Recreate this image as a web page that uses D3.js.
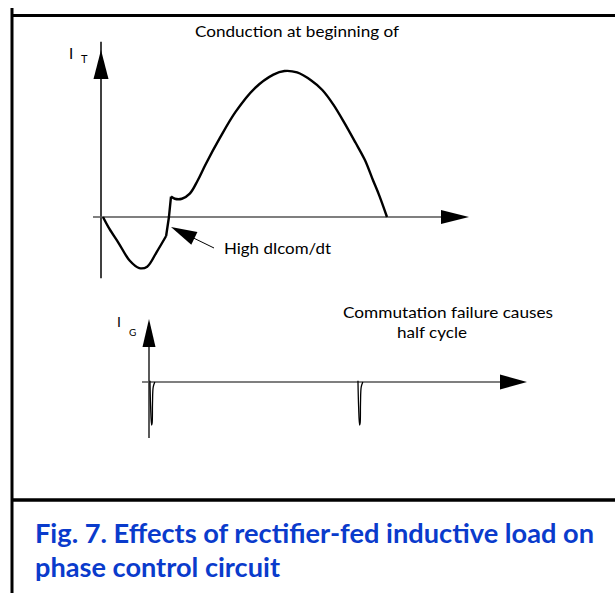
<!DOCTYPE html>
<html><head><meta charset="utf-8">
<script src="https://cdn.jsdelivr.net/npm/d3@7"></script>
<style>html,body{margin:0;padding:0;background:#fff;}svg{display:block;}</style>
</head><body>
<svg id="c" width="615" height="593"></svg>
<script>
// ---- data ----
// Thyristor current I_T : [phase angle (deg), normalised current]
const itNegLobe = [[0,0],[4,-0.08],[10,-0.18],[17,-0.30],[23,-0.35],[28,-0.34],[34,-0.24],[40,-0.13]];
const itJump    = [[40,-0.13],[41.8,0],[43.1,0.14]];
const itPosLobe = [[43.1,0.14],[45.5,0.125],[50,0.125],[55,0.16],[60,0.25],[65,0.36],[74,0.54],[84,0.72],[96,0.88],[108,0.975],[115,1.0],[123,0.99],[132,0.935],[139,0.87],[146,0.77],[153,0.645],[160,0.51],[166,0.39],[171,0.255],[175,0.15],[180,0]];
// Gate current I_G pulses : firing angles (deg)
const gatePulses = [0, 180];
// pulse shape : [offset (deg), normalised gate current]
const pulseShape = [[-0.9,0.03],[-0.3,-0.6],[0.5,-1],[1.0,-0.95],[1.3,-0.5],[1.9,-0.12],[3.3,0]];
const labels = {
  title: "Conduction at beginning of",
  arrowNote: "High dIcom/dt",
  note1: "Commutation failure causes",
  note2: "half cycle",
  caption1: "Fig. 7. Effects of rectifier-fed inductive load on",
  caption2: "phase control circuit"
};

const svg = d3.select("#c");

// frame
svg.append("line").attr("x1",12).attr("y1",8).attr("x2",12).attr("y2",593).attr("stroke","#000").attr("stroke-width",3);
svg.append("line").attr("x1",11).attr("y1",15.5).attr("x2",615).attr("y2",15.5).attr("stroke","#000").attr("stroke-width",3);
svg.append("line").attr("x1",11).attr("y1",500).attr("x2",615).attr("y2",500).attr("stroke","#000").attr("stroke-width",3.5);

// ---- top panel ----
const xT = d3.scaleLinear().domain([0,180]).range([103,387]);
const yT = d3.scaleLinear().domain([0,1]).range([217,71]);
const x0T = xT(0)-2;

function arrowUp(x, tip, base, hw){
  svg.append("path").attr("d",`M${x},${tip}L${x-hw},${base}L${x+hw},${base}Z`).attr("fill","#000");
}
function arrowRight(y, tip, base, hh){
  svg.append("path").attr("d",`M${tip},${y}L${base},${y-hh}L${base},${y+hh}Z`).attr("fill","#000");
}

// y axis
svg.append("line").attr("x1",x0T).attr("x2",x0T).attr("y1",yT(1.2)).attr("y2",yT(-0.42)).attr("stroke","#000").attr("stroke-width",1.5);
arrowUp(x0T, 50, 79, 7.5);
// x axis
svg.append("line").attr("x1",x0T-8).attr("x2",445).attr("y1",yT(0)).attr("y2",yT(0)).attr("stroke","#555").attr("stroke-width",1.5);
arrowRight(yT(0), 469, 441, 7);

const lineT = d3.line().x(d=>xT(d[0])).y(d=>yT(d[1]));
svg.append("path").attr("d", lineT.curve(d3.curveCatmullRom.alpha(0.5))(itNegLobe)).attr("fill","none").attr("stroke","#000").attr("stroke-width",2.4).attr("stroke-linejoin","round");
svg.append("path").attr("d", d3.line().x(d=>xT(d[0])).y(d=>yT(d[1]))(itJump)).attr("fill","none").attr("stroke","#000").attr("stroke-width",2.4).attr("stroke-linejoin","round");
svg.append("path").attr("d", d3.line().x(d=>xT(d[0])).y(d=>yT(d[1])).curve(d3.curveCatmullRom.alpha(0.5))(itPosLobe)).attr("fill","none").attr("stroke","#000").attr("stroke-width",2.4).attr("stroke-linejoin","round");

// labels top
svg.append("text").attr("x",195).attr("y",37).attr("font-family","Lato, 'Open Sans', sans-serif").attr("font-size",15).attr("textLength",204).attr("lengthAdjust","spacingAndGlyphs").text(labels.title);
svg.append("text").attr("x",69).attr("y",59).attr("font-family","Lato, sans-serif").attr("font-size",15).text("I");
svg.append("text").attr("x",81).attr("y",63).attr("font-family","Lato, sans-serif").attr("font-size",11).text("T");

// annotation arrow
{
  const tip=[171,227], end=[214,248];
  const dx=end[0]-tip[0], dy=end[1]-tip[1], L=Math.hypot(dx,dy), ux=dx/L, uy=dy/L;
  const bl=26, hw=7;
  const bx=tip[0]+ux*bl, by=tip[1]+uy*bl;
  svg.append("line").attr("x1",bx-ux*2).attr("y1",by-uy*2).attr("x2",end[0]).attr("y2",end[1]).attr("stroke","#000").attr("stroke-width",1);
  svg.append("path").attr("d",`M${tip[0]},${tip[1]}L${bx-uy*hw},${by+ux*hw}L${bx+uy*hw},${by-ux*hw}Z`).attr("fill","#000");
}
svg.append("text").attr("x",224).attr("y",254).attr("font-family","Lato, sans-serif").attr("font-size",15).attr("textLength",107).attr("lengthAdjust","spacingAndGlyphs").text(labels.arrowNote);

// ---- bottom panel ----
const xG = d3.scaleLinear().domain([0,180]).range([151,359]);
const yG = d3.scaleLinear().domain([-1,0]).range([425,382]);
const x0G = 149;
svg.append("line").attr("x1",x0G).attr("x2",x0G).attr("y1",330).attr("y2",438).attr("stroke","#000").attr("stroke-width",1.3);
arrowUp(x0G, 319, 347, 6.5);
svg.append("line").attr("x1",142).attr("x2",505).attr("y1",yG(0)).attr("y2",yG(0)).attr("stroke","#555").attr("stroke-width",1.3);
arrowRight(yG(0), 527, 500, 7.5);

const pulseLine = d3.line().x(d=>d[0]).y(d=>d[1]).curve(d3.curveCatmullRom.alpha(0.5));
const degPx = (xG(1)-xG(0));
gatePulses.forEach(p=>{
  const pts = pulseShape.map(s=>[xG(p)+s[0]*degPx, yG(s[1])]);
  svg.append("path").attr("d",pulseLine(pts)).attr("fill","none").attr("stroke","#000").attr("stroke-width",1.3);
});

svg.append("text").attr("x",117).attr("y",327).attr("font-family","Lato, sans-serif").attr("font-size",14).text("I");
svg.append("text").attr("x",129).attr("y",336).attr("font-family","Lato, sans-serif").attr("font-size",10).text("G");
svg.append("text").attr("x",343).attr("y",318).attr("font-family","Lato, sans-serif").attr("font-size",15).attr("textLength",210).attr("lengthAdjust","spacingAndGlyphs").text(labels.note1);
svg.append("text").attr("x",397).attr("y",338).attr("font-family","Lato, sans-serif").attr("font-size",15).attr("textLength",70).attr("lengthAdjust","spacingAndGlyphs").text(labels.note2);

// caption
svg.append("text").attr("x",35).attr("y",543).attr("font-family","Lato, sans-serif").attr("font-weight","bold").attr("font-size",26).attr("fill","#0a3bcc").attr("textLength",559).attr("lengthAdjust","spacingAndGlyphs").text(labels.caption1);
svg.append("text").attr("x",35).attr("y",577).attr("font-family","Lato, sans-serif").attr("font-weight","bold").attr("font-size",26).attr("fill","#0a3bcc").attr("textLength",245).attr("lengthAdjust","spacingAndGlyphs").text(labels.caption2);
</script>
</body></html>
